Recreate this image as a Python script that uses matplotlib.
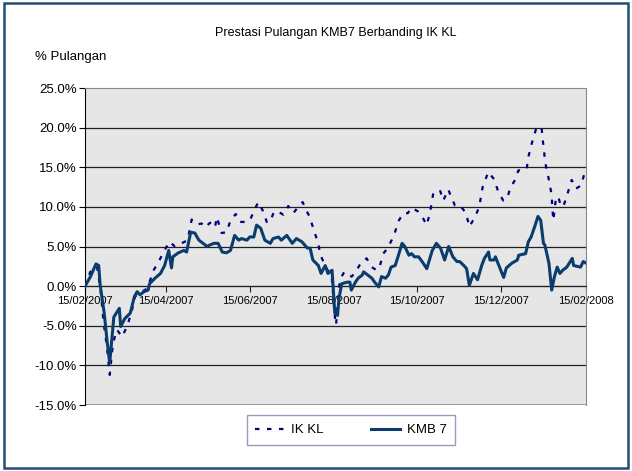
import numpy as np
import matplotlib.pyplot as plt
from matplotlib.patches import Rectangle

plt.rcParams['font.family'] = ['Liberation Sans', 'DejaVu Sans']

# days since 15/02/2007, values in %
kmb_days = [0, 4, 8, 10, 11, 14, 16, 18, 21, 25, 26, 29, 33, 36, 38, 40, 43, 46, 47, 51,
            55, 58, 61, 63, 64, 68, 72, 74, 77, 80, 83, 86, 89, 91, 94, 97, 100, 103, 106, 109,
            112, 114, 118, 120, 123, 125, 128, 131, 135, 137, 141, 143, 147, 151, 154, 158, 162, 164, 166, 170,
            172, 175, 177, 180, 182, 184, 185, 187, 191, 193, 194, 197, 199, 202, 203, 206, 209, 211, 214, 216,
            219, 221, 223, 226, 228, 231, 233, 236, 238, 240, 243, 246, 249, 253, 256, 259, 262, 265, 268, 271,
            273, 276, 278, 280, 283, 286, 289, 291, 294, 295, 298, 299, 302, 305, 307, 311, 315, 316, 321, 323,
            325, 328, 330, 332, 334, 335, 338, 340, 342, 344, 346, 348, 351, 355, 356, 361, 363, 365]
kmb_vals = [0.0, 1.2, 2.8, 2.6, 0.2, -3.4, -6.8, -9.7, -3.9, -2.8, -5.1, -4.1, -3.4, -1.3, -0.7, -1.1, -0.7, -0.5, 0.3, 1.0,
            1.6, 2.6, 4.5, 2.3, 3.7, 4.2, 4.5, 4.3, 6.8, 6.7, 5.8, 5.4, 5.0, 5.2, 5.4, 5.4, 4.3, 4.2, 4.5, 6.4,
            5.8, 6.0, 5.8, 6.2, 6.2, 7.7, 7.3, 5.8, 5.4, 6.0, 6.2, 5.8, 6.4, 5.4, 6.0, 5.6, 4.8, 4.8, 3.3, 2.6,
            1.6, 2.6, 1.6, 2.0, -3.4, -3.7, -1.6, 0.3, 0.5, 0.5, -0.5, 0.5, 1.0, 1.4, 1.8, 1.4, 1.0, 0.5, -0.1, 1.2,
            1.0, 1.4, 2.4, 2.6, 3.7, 5.4, 5.0, 3.9, 4.1, 3.7, 3.7, 3.0, 2.2, 4.5, 5.4, 4.8, 3.3, 5.0, 3.7, 3.1,
            3.1, 2.6, 2.2, 0.1, 1.6, 0.8, 2.6, 3.5, 4.3, 3.3, 3.3, 3.7, 2.4, 1.1, 2.3, 2.9, 3.3, 3.9, 4.1, 5.6,
            6.2, 7.7, 8.8, 8.3, 5.4, 5.2, 2.9, -0.5, 1.2, 2.4, 1.6, 2.0, 2.4, 3.5, 2.6, 2.4, 3.1, 2.9]

ik_days = [0, 3.9, 8.7, 11.1, 13.6, 16, 18, 20.4, 23.3, 27, 30.6, 33.7, 36.6, 40.3, 43.9, 47.6, 50, 53.7, 57.3, 61.4,
           65.6, 70.4, 74.8, 77.7, 82.1, 85, 87.4, 91.1, 94.7, 96, 99.6, 103.2, 105.6, 109.8, 112.9, 116.6, 120.2, 123.3, 126.3, 129.9,
           132.4, 134.8, 137.7, 140.8, 144.5, 148.1, 151.7, 155.4, 158.6, 161, 163.9, 165.2, 167.6, 170, 171.2, 173.6, 176.1, 179.7, 182.1, 182.9,
           184.5, 185.8, 188.2, 189.4, 191.8, 194.3, 197.9, 201.6, 205.2, 208.9, 212.5, 214.9, 217.3, 220.5, 223.4, 225.8, 228.7, 231.9, 235.1, 238,
           242.8, 246.5, 248.9, 251.3, 253.7, 258.6, 261, 264.7, 266.6, 269.5, 273.2, 277.6, 280, 284.1, 287.2, 289.7, 293.8, 298, 301.1, 304.7,
           307.7, 309.6, 313.3, 315.7, 319.3, 321.8, 323, 326.1, 329.1, 332.7, 333.4, 334.4, 335.1, 337.1, 338.7, 340, 340.4, 341.2, 343.1, 344.8,
           346.8, 349.2, 351.6, 354.6, 357.7, 361.4, 363.5]
ik_vals = [0.0, 1.8, 2.5, -0.1, -4.7, -7.7, -11.2, -7.2, -5.5, -6.4, -5.1, -3.4, -1.3, -0.7, -0.5, 0.8, 2.0, 3.1, 4.3, 5.6,
           5.0, 5.4, 5.8, 8.4, 7.8, 7.9, 7.4, 8.0, 7.4, 8.7, 6.7, 6.8, 8.1, 9.1, 8.1, 8.1, 8.3, 9.6, 10.6, 9.4,
           8.1, 8.1, 9.4, 9.4, 9.0, 10.1, 9.2, 10.0, 10.6, 9.6, 8.7, 7.9, 6.6, 5.4, 4.1, 3.1, 2.2, 1.2, -3.9, -4.9,
           -1.3, 0.8, 1.6, 1.8, 1.4, 1.2, 2.0, 3.1, 3.5, 2.4, 2.0, 2.6, 4.1, 4.8, 5.8, 6.8, 8.3, 9.2, 9.2, 9.9,
           9.4, 8.5, 7.7, 9.2, 11.7, 12.1, 10.8, 12.2, 11.3, 10.2, 10.2, 9.2, 7.5, 8.7, 10.0, 12.5, 14.4, 13.5, 11.9, 10.8,
           11.1, 12.3, 13.4, 14.6, 14.6, 14.8, 16.3, 18.4, 20.1, 19.9, 18.5, 17.2, 15.7, 14.2, 12.7, 11.5, 10.0, 8.3, 11.1, 11.3,
           10.0, 10.4, 11.7, 13.4, 12.3, 12.7, 14.0]

tick_days = [0, 59, 120, 181, 242, 303, 365]
tick_labels = ['15/02/2007', '15/04/2007', '15/06/2007', '15/08/2007', '15/10/2007', '15/12/2007', '15/02/2008']
y_ticks = [-15, -10, -5, 0, 5, 10, 15, 20, 25]

fig = plt.figure(figsize=(6.32, 4.71), dpi=100)
ax = fig.add_axes([85/632, 1-405/471, 501/632, 317/471])
ax.set_facecolor('#e6e6e6')

for yv in y_ticks[1:-1]:
    ax.axhline(yv, color='#202020', lw=0.9, zorder=1)

ax.plot(ik_days, ik_vals, color='#000080', lw=1.6, ls=(0, (2.0, 3.4)), label='IK KL', zorder=3)
ax.plot(kmb_days, kmb_vals, color='#0a3d6e', lw=2.2, label='KMB 7', zorder=4)

ax.set_xlim(0, 365)
ax.set_ylim(-15, 25)
ax.set_yticks(y_ticks)
ax.set_yticklabels(['%.1f%%' % v for v in y_ticks])
ax.set_xticks(tick_days)
ax.set_xticklabels(tick_labels)
ax.spines['bottom'].set_position(('data', 0))
ax.spines['bottom'].set_color('#202020')
ax.spines['left'].set_color('black')
ax.spines['top'].set_color('#888888')
ax.spines['right'].set_color('#888888')
ax.tick_params(axis='x', direction='out', length=4, pad=3, color='#202020', labelsize=8)
ax.tick_params(axis='y', direction='out', length=4, pad=2, labelsize=9.5)
ax.axhline(-15, color='#888888', lw=1.2, zorder=1)

fig.text(336/632, 1-33/471, 'Prestasi Pulangan KMB7 Berbanding IK KL', ha='center', va='center', fontsize=9)
fig.text(35/632, 1-57/471, '% Pulangan', ha='left', va='center', fontsize=9.5)

fig.legend(loc='center', bbox_to_anchor=(351/632, 1-430/471), ncol=2, fontsize=9.5,
           frameon=True, fancybox=False, edgecolor='#8080a8', handlelength=2.2,
           handletextpad=0.5, columnspacing=3.6, borderpad=0.65, borderaxespad=0)

fig.patches.append(Rectangle((4/632, 3/471), 624/632, 465/471, transform=fig.transFigure,
                             fill=False, edgecolor='#1f4e79', lw=1.8))

fig.savefig('out.png', dpi=100)
